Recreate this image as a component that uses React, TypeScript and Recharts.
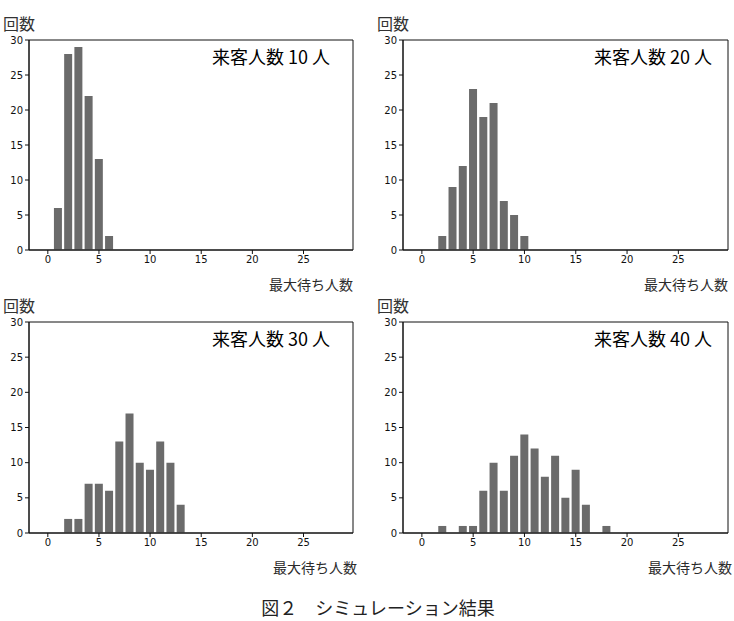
import { BarChart, Bar, XAxis, YAxis, ReferenceArea } from "recharts";

// 最大待ち人数 0〜28
const waitCounts = Array.from({ length: 29 }, (_, i) => i);

// 来客人数ごとの出現回数（0 の階級は省略）
const freq10: Record<number, number> = { 1: 6, 2: 28, 3: 29, 4: 22, 5: 13, 6: 2 };
const freq20: Record<number, number> = { 2: 2, 3: 9, 4: 12, 5: 23, 6: 19, 7: 21, 8: 7, 9: 5, 10: 2 };
const freq30: Record<number, number> = {
  2: 2, 3: 2, 4: 7, 5: 7, 6: 6, 7: 13, 8: 17, 9: 10, 10: 9, 11: 13, 12: 10, 13: 4,
};
const freq40: Record<number, number> = {
  2: 1, 4: 1, 5: 1, 6: 6, 7: 10, 8: 6, 9: 11, 10: 14, 11: 12, 12: 8, 13: 11, 14: 5, 15: 9, 16: 4, 18: 1,
};

const visitors = [10, 20, 30, 40];
const freqs = [freq10, freq20, freq30, freq40];

const xTicks = [0, 5, 10, 15, 20, 25];
const yTicks = [0, 5, 10, 15, 20, 25, 30];
const X_MIN = -1.84;
const X_MAX = 29.84;

const jp = '"Noto Sans CJK JP", sans-serif';
const tickStyle = { fontSize: 10, fill: "#111", fontFamily: '"DejaVu Sans", sans-serif' };

// プロット領域の位置
const plots = [
  { x: 29, y: 40, w: 324, h: 210, titleGap: 23 },
  { x: 403, y: 40, w: 325, h: 210, titleGap: 16 },
  { x: 29, y: 322, w: 324, h: 211, titleGap: 23 },
  { x: 403, y: 322, w: 325, h: 211, titleGap: 16 },
];

function Panel({ idx }: { idx: number }) {
  const p = plots[idx];
  const f = freqs[idx];
  const data = waitCounts.map((w) => ({ wait: w, count: f[w] ?? 0 }));
  return (
    <>
      <div style={{ position: "absolute", left: p.x - 30, top: p.y - 10 }}>
        <BarChart
          width={p.w + 40}
          height={p.h + 40}
          data={data}
          margin={{ top: 10, right: 10, left: 6, bottom: 10 }}
          barCategoryGap={0}
        >
          <XAxis
            dataKey="wait"
            type="number"
            domain={[X_MIN, X_MAX]}
            ticks={xTicks}
            allowDataOverflow
            height={20}
            tick={tickStyle}
            tickSize={4}
            tickLine={{ stroke: "#111" }}
            axisLine={{ stroke: "#111" }}
          />
          <YAxis
            type="number"
            domain={[0, 30]}
            ticks={yTicks}
            width={24}
            tick={tickStyle}
            tickSize={4}
            tickLine={{ stroke: "#111" }}
            axisLine={{ stroke: "#111" }}
            interval={0}
          />
          <Bar dataKey="count" fill="#6b6b6b" barSize={8} isAnimationActive={false} />
          <ReferenceArea
            x1={X_MIN}
            x2={X_MAX}
            y1={0}
            y2={30}
            fill="none"
            stroke="#111"
            strokeWidth={1}
            ifOverflow="visible"
          />
        </BarChart>
      </div>
      <div
        style={{
          position: "absolute",
          left: p.x - 200,
          width: p.w + 200 - p.titleGap,
          top: p.y + 3,
          textAlign: "right",
          fontFamily: jp,
          fontSize: 18,
          color: "#000",
          whiteSpace: "nowrap",
        }}
      >
        来客人数 {visitors[idx]} 人
      </div>
      <div
        style={{
          position: "absolute",
          left: p.x - 26,
          top: p.y - 29,
          fontFamily: jp,
          fontSize: 16,
          color: "#333",
        }}
      >
        回数
      </div>
      <div
        style={{
          position: "absolute",
          left: p.x + p.w - 200,
          width: 200 + (idx >= 2 ? 4 : 0),
          top: p.y + p.h + 24,
          textAlign: "right",
          fontFamily: jp,
          fontSize: 14,
          color: "#2b2b2b",
        }}
      >
        最大待ち人数
      </div>
    </>
  );
}

export default function App() {
  return (
    <div style={{ position: "absolute", left: 0, top: 0, width: 734, height: 621, background: "#fff" }}>
      {visitors.map((_, i) => (
        <Panel key={i} idx={i} />
      ))}
      <div
        style={{
          position: "absolute",
          left: 0,
          width: 756,
          top: 594,
          textAlign: "center",
          fontFamily: jp,
          fontSize: 18,
          color: "#222",
        }}
      >
        図２　シミュレーション結果
      </div>
    </div>
  );
}
